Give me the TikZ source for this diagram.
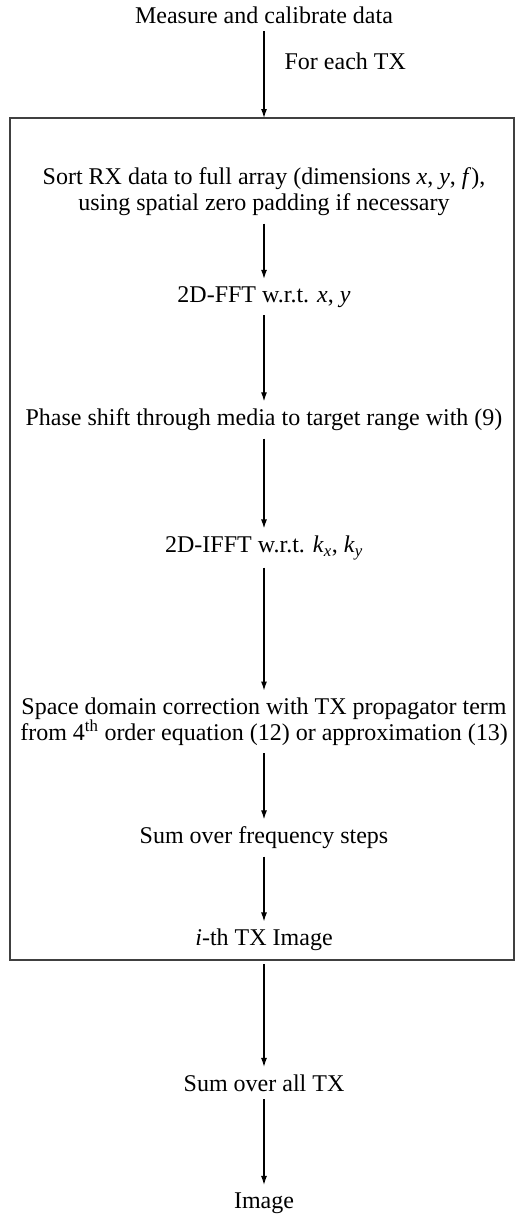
\documentclass[tikz,border=0pt]{standalone}
\usepackage{fontspec}
\setmainfont{Liberation Serif}
\usetikzlibrary{arrows.meta}

\begin{document}
\begin{tikzpicture}[x=1pt,y=-1pt,line width=1.2pt,
  every node/.style={font=\fontsize{24}{26}\selectfont,align=center,inner sep=0pt},
  flow/.style={-{Latex[length=9pt,width=6pt]},shorten <=7pt,shorten >=7pt}]
 \useasboundingbox (0,0) rectangle (516,1216);

 % outer steps
 \node (measure) at (264,15) {Measure and calibrate data};
 \coordinate (boxin) at (264,118);
 \coordinate (boxout) at (264,960);
 \draw[black!75] (10,118) rectangle (514,960);

 % loop over TX
 \node (sort) at (264,192) {Sort RX data to full array (dimensions \textit{x}, \textit{y}, \textit{f}),\\
   using spatial zero padding if necessary};
 \node (fft) at (264,297) {2D-FFT w.r.t. \textit{x}, \textit{y}};
 \node (phase) at (264,420) {Phase shift through media to target range with (9)};
 \node (ifft) at (264,548) {2D-IFFT w.r.t. \textit{k}\textsubscript{\textit{x}}, \textit{k}\textsubscript{\textit{y}}};
 \node (space) at (264,722) {Space domain correction with TX propagator term\\
   from 4\textsuperscript{th} order equation (12) or approximation (13)};
 \node (sumf) at (264,838) {Sum over frequency steps};
 \node (txim) at (264,940) {\textit{i}-th TX Image};

 \node (sumtx) at (264,1083) {Sum over all TX};
 \node (image) at (264,1203) {Image};

 \draw[flow,shorten >=0pt] (measure) -- node[pos=0.4,anchor=west,xshift=20pt] {For each TX} (boxin);
 \draw[flow] (sort) -- (fft);
 \draw[flow] (fft) -- (phase);
 \draw[flow] (phase) -- (ifft);
 \draw[flow] (ifft) -- (space);
 \draw[flow] (space) -- (sumf);
 \draw[flow] (sumf) -- (txim);
 \draw[flow,shorten <=4pt] (boxout) -- (sumtx);
 \draw[flow] (sumtx) -- (image);
\end{tikzpicture}
\end{document}
